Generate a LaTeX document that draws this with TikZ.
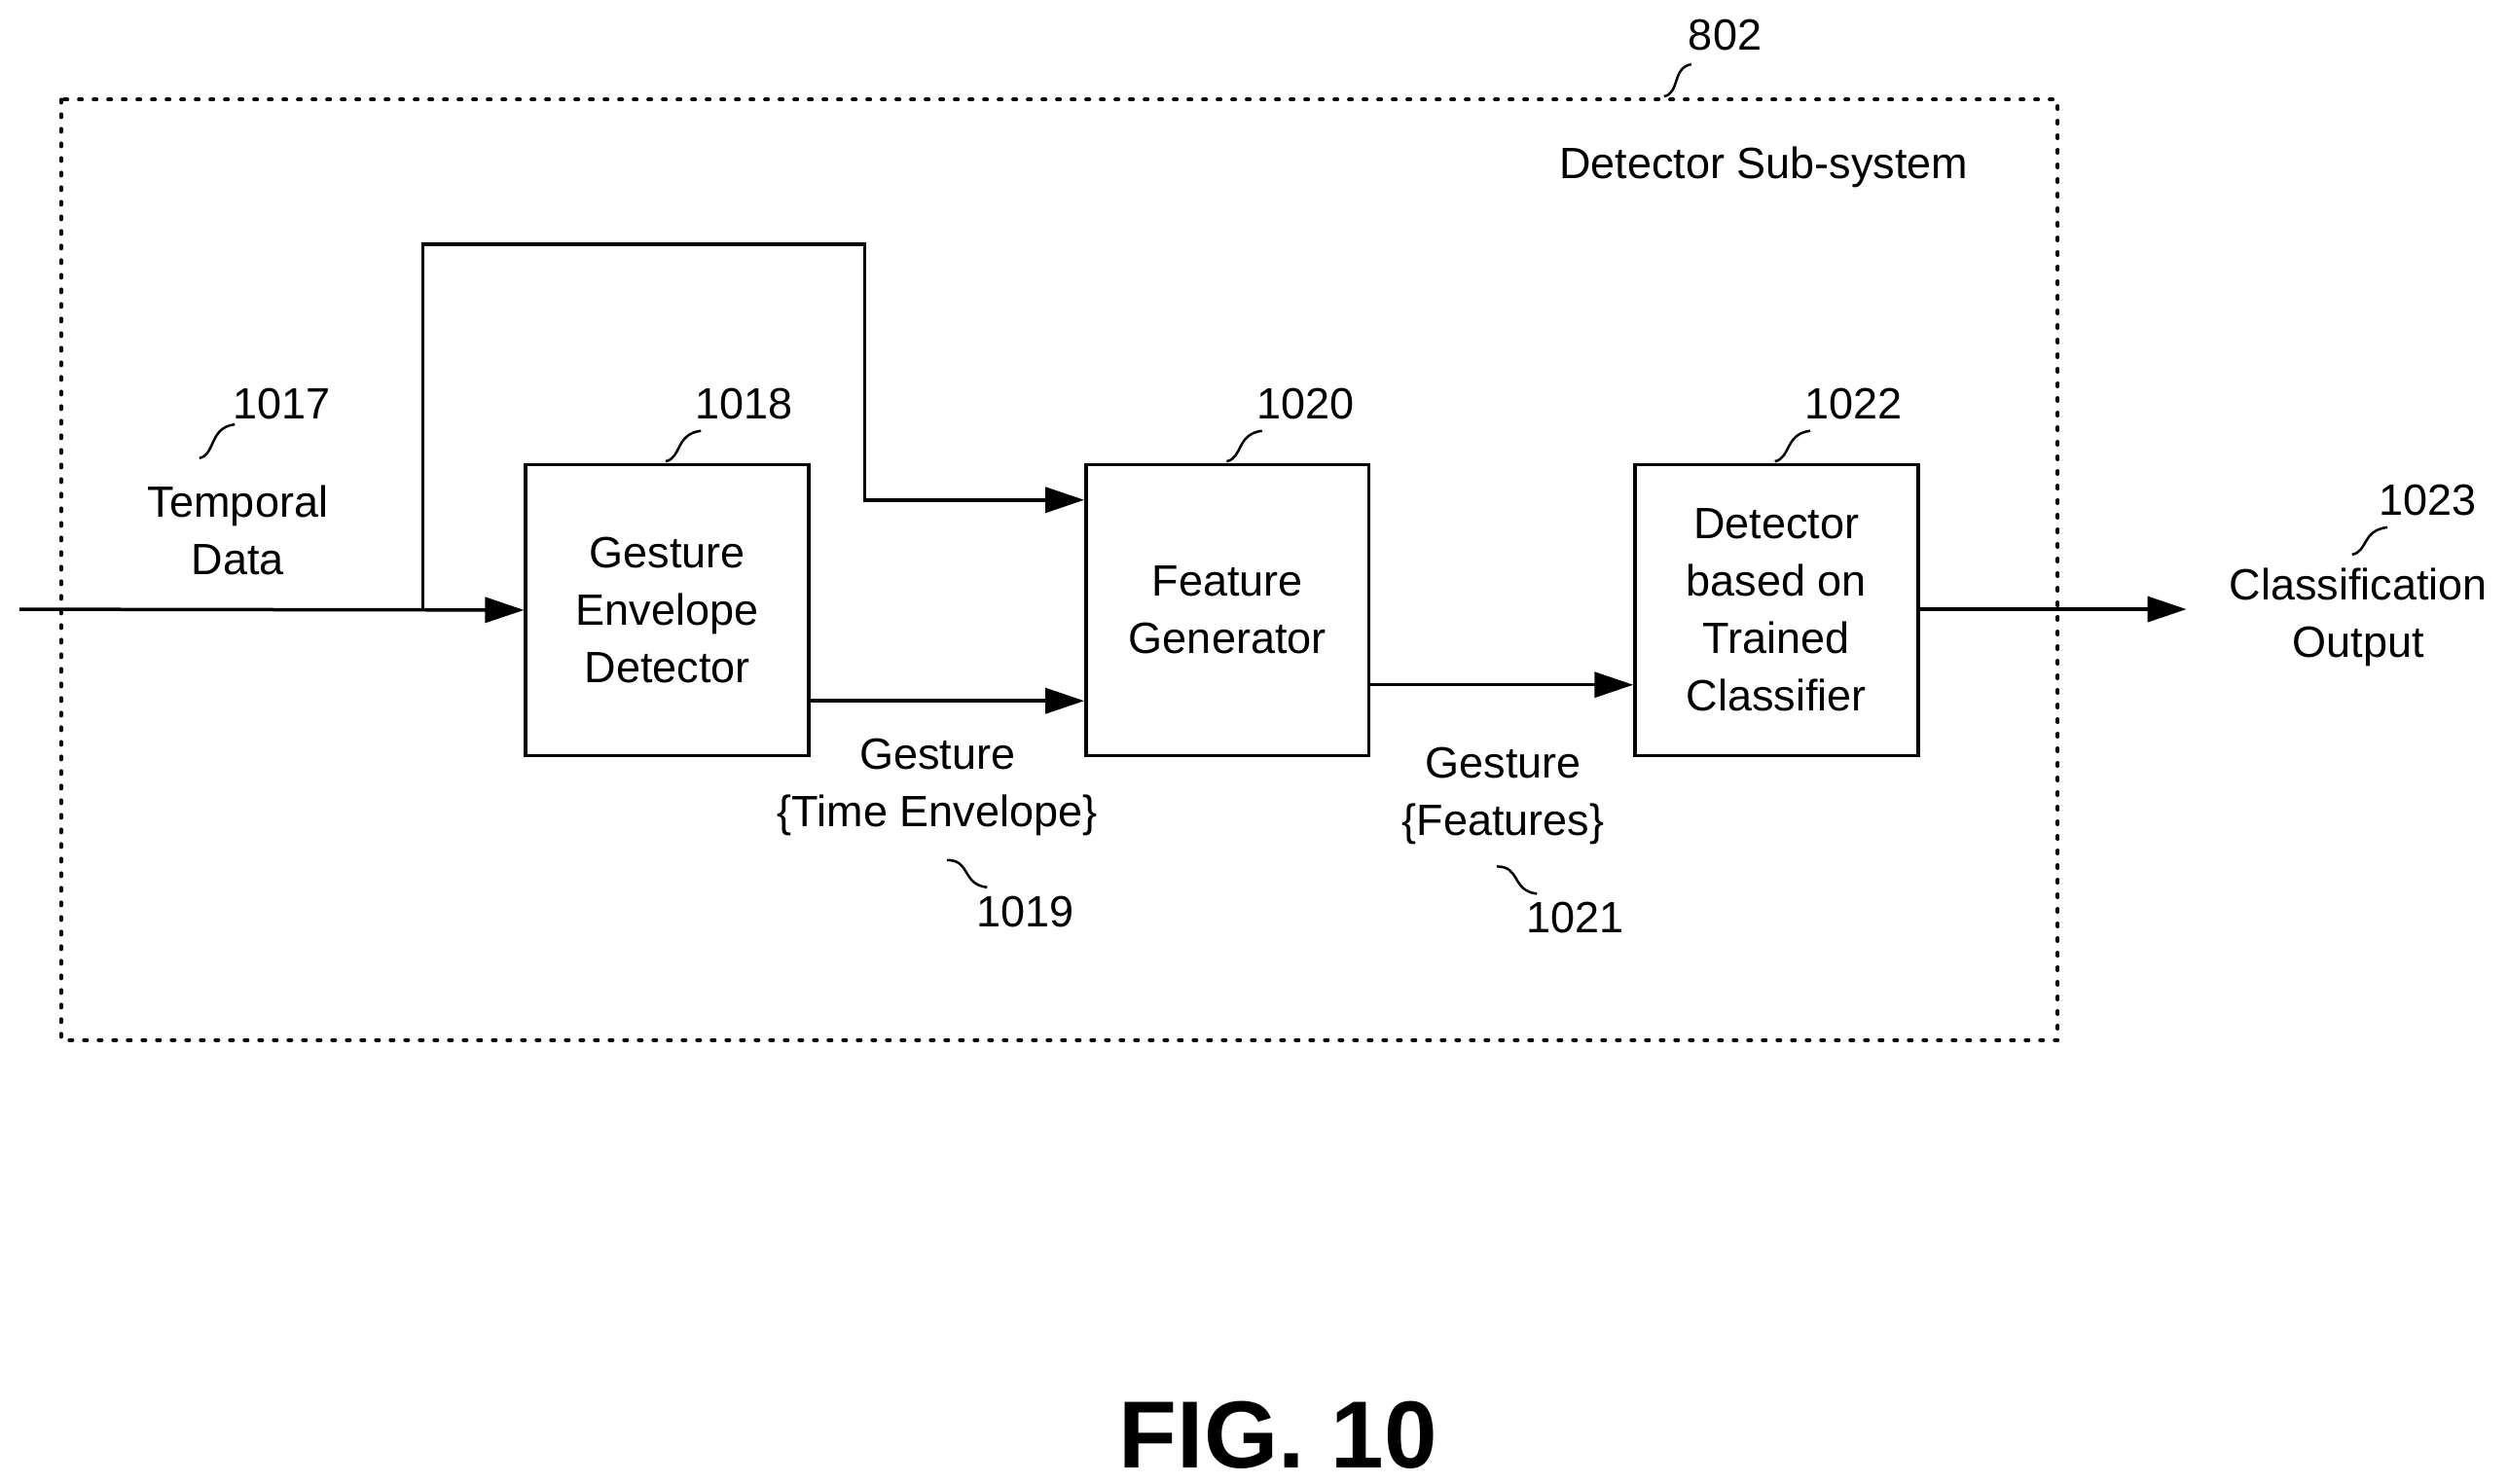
\documentclass[tikz,border=0pt]{standalone}
\usepackage{fontspec}
\setmainfont{Liberation Sans}
\usetikzlibrary{arrows.meta}
\begin{document}
\begin{tikzpicture}[x=1.652pt,y=-1.652pt,
  every node/.style={font=\fontsize{45}{59}\selectfont, align=center, inner sep=0pt},
  blk/.style={draw, line width=3.5pt, minimum width=176*1.652pt, minimum height=181*1.652pt},
  wire/.style={line width=3.5pt},
  arr/.style={wire, -{Triangle[length=40pt,width=26pt]}},
  sq/.style={line width=2.5pt}]
\useasboundingbox (0,0) rectangle (1560,923);
\draw[line width=4pt, dotted, dash pattern=on 3pt off 12pt, line cap=round] (38,62) rectangle (1280,647);
\node (n802) at (1073,22) {802};
\draw[sq] (1035,60) .. controls (1045,58) and (1040,42) .. (1052,40);
\node (dss) at (1097,104) {Detector Sub-system};

\node[blk] (ged) at (415,379.5) {Gesture\\Envelope\\Detector};
\node[blk] (fg) at (763.5,379.5) {Feature\\Generator};
\node[blk] (dc) at (1105,379.5) {Detector\\based on\\Trained\\Classifier};

\coordinate (in) at (12,379);
\coordinate (br) at (263,379);
\coordinate (out) at (1360,379);
\draw[arr] (in) -- (ged.west);
\draw[arr] (br) -- (263,152) -- (538,152) -- (538,311) -- (fg.west |- 0,311);
\draw[arr] (ged.east |- 0,436) -- (fg.west |- 0,436);
\draw[arr] (fg.east |- 0,426) -- (dc.west |- 0,426);
\draw[arr] (dc.east |- out) -- (out);

\node (n1017) at (175,251) {1017};
\draw[sq] (124,285) .. controls (134,283) and (130,266) .. (146,264);
\node (td) at (148,330) {Temporal\\Data};
\node (n1018) at (463,251) {1018};
\draw[sq] (414,287) .. controls (424,285) and (420,270) .. (436,268);
\node (n1020) at (812,251) {1020};
\draw[sq] (763,287) .. controls (773,285) and (769,270) .. (785,268);
\node (n1022) at (1153,251) {1022};
\draw[sq] (1104,287) .. controls (1114,285) and (1110,270) .. (1126,268);
\node (n1023) at (1510,311) {1023};
\draw[sq] (1463,345) .. controls (1473,343) and (1469,330) .. (1485,328);
\node (co) at (1467,384) {Classification\\Output};

\node (gte) at (583,490) {Gesture\\\{Time Envelope\}};
\draw[sq] (589,535) .. controls (604,535) and (598,550) .. (614,552);
\node (n1019) at (638,567) {1019};
\node (gf) at (935,495) {Gesture\\\{Features\}};
\draw[sq] (931,539) .. controls (946,539) and (940,554) .. (956,556);
\node (n1021) at (980,571) {1021};

\node[font=\fontsize{98}{110}\selectfont\bfseries] (fig) at (795,893) {FIG. 10};
\end{tikzpicture}
\end{document}
